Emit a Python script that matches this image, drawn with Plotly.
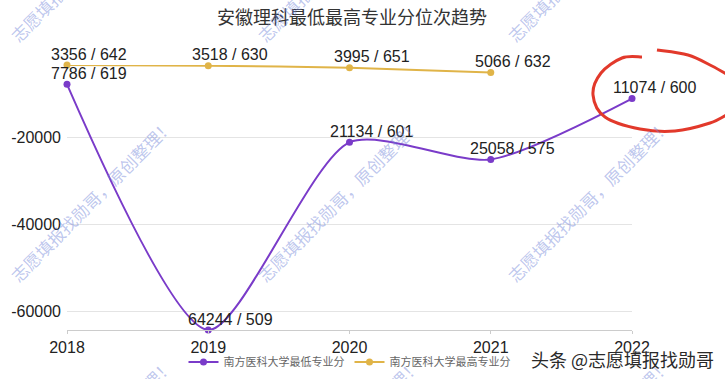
import plotly.graph_objects as go

# ---------------- data ----------------
years = [2018, 2019, 2020, 2021, 2022]
min_rank = [7786, 64244, 21134, 25058, 11074]
min_score = [619, 509, 601, 575, 600]
max_years = [2018, 2019, 2020, 2021]
max_rank = [3356, 3518, 3995, 5066]
max_score = [642, 630, 651, 632]
y_ticks = [-60000, -40000, -20000]
series_names = ["南方医科大学最低专业分", "南方医科大学最高专业分"]
title_text = "安徽理科最低最高专业分位次趋势"
watermark = "志愿填报找勋哥，原创整理！"
credit = "头条 @志愿填报找勋哥"

PURPLE = "#7a3bc9"
GOLD = "#e0b448"
FONT = "Liberation Sans, Noto Sans CJK SC, sans-serif"
CJK = "Noto Sans CJK SC, sans-serif"

W, H = 725, 379
L, R, T, B = 67, 93, 65, 49
PW, PH = W - L - R, H - T - B


def px2paper(x, y):
    return (x - L) / PW, (H - B - y) / PH


fig = go.Figure()
fig.add_trace(go.Scatter(
    x=years, y=[-v for v in min_rank], name=series_names[0],
    mode="lines+markers", line=dict(color=PURPLE, width=2, shape="spline", smoothing=0.7),
    marker=dict(size=7, color=PURPLE), cliponaxis=False,
))
fig.add_trace(go.Scatter(
    x=max_years, y=[-v for v in max_rank], name=series_names[1],
    mode="lines+markers", line=dict(color=GOLD, width=2, shape="spline", smoothing=0.7),
    marker=dict(size=7, color=GOLD), cliponaxis=False,
))

annotations = []
for xs, rs, ss in ((years, min_rank, min_score), (max_years, max_rank, max_score)):
    for x, r, s in zip(xs, rs, ss):
        annotations.append(dict(
            x=x, y=-r, xref="x", yref="y", text=f"{r} / {s}", showarrow=False,
            xanchor="center", yanchor="middle", xshift=22, yshift=11,
            font=dict(family=FONT, size=16, color="#222"),
        ))

# tiled diagonal watermarks
for cx in (91, 338, 588):
    for cy in (-40, 200, 440):
        px, py = px2paper(cx, cy)
        annotations.append(dict(
            x=px, y=py, xref="paper", yref="paper", text=watermark, showarrow=False,
            textangle=-45, xanchor="center", yanchor="middle",
            font=dict(family=CJK, size=17, color="rgba(110,130,215,0.45)"),
        ))

# bottom-right credit
cx, cy = px2paper(716, 359)
annotations.append(dict(
    x=cx, y=cy, xref="paper", yref="paper", text=credit, showarrow=False,
    xanchor="right", yanchor="middle",
    font=dict(family=CJK, size=18, color="#2a2a2a", shadow="0px 0px 3px white"),
))


# hand-drawn red circle around the 2022 label
def smooth_path(pts):
    pp = [px2paper(x, y) for x, y in pts]
    d = f"M {pp[0][0]:.4f},{pp[0][1]:.4f}"
    n = len(pp)
    for i in range(n - 1):
        p0 = pp[i - 1] if i > 0 else pp[i]
        p1, p2 = pp[i], pp[i + 1]
        p3 = pp[i + 2] if i + 2 < n else p2
        c1 = (p1[0] + (p2[0] - p0[0]) / 6, p1[1] + (p2[1] - p0[1]) / 6)
        c2 = (p2[0] - (p3[0] - p1[0]) / 6, p2[1] - (p3[1] - p1[1]) / 6)
        d += f" C {c1[0]:.4f},{c1[1]:.4f} {c2[0]:.4f},{c2[1]:.4f} {p2[0]:.4f},{p2[1]:.4f}"
    return d


arc_a = [(642, 57), (622, 58), (601, 73), (593, 95), (605, 117), (640, 129),
         (675, 131), (710, 123), (728, 114)]
arc_b = [(657, 50), (688, 55), (712, 66), (728, 75)]
shapes = [dict(type="path", path=smooth_path(a), xref="paper", yref="paper",
               line=dict(color="#e2392b", width=3)) for a in (arc_a, arc_b)]

fig.update_layout(
    width=W, height=H,
    margin=dict(l=L, r=R, t=T, b=B, autoexpand=False),
    paper_bgcolor="white", plot_bgcolor="white",
    title=dict(text=title_text, x=352 / W, xanchor="center", y=1 - 18 / H, yanchor="middle",
               xref="container", yref="container",
               font=dict(family=CJK, size=18, color="#333")),
    xaxis=dict(range=[2018, 2022], tickvals=years, ticktext=[str(y) for y in years],
               showgrid=False, zeroline=False, showline=True, linecolor="#cccccc",
               ticks="outside", ticklen=3, tickcolor="#cccccc",
               tickfont=dict(family=FONT, size=16, color="#222")),
    yaxis=dict(range=[-max(min_rank), -min(max_rank)], tickvals=y_ticks,
               ticktext=[str(v) for v in y_ticks], showgrid=True, gridcolor="#e4e4e4",
               zeroline=False, showline=False, ticks="", ticklabelstandoff=5,
               tickfont=dict(family=FONT, size=16, color="#222")),
    legend=dict(orientation="h", x=0.5, xanchor="center", y=px2paper(0, 362)[1], yanchor="middle",
                font=dict(family=CJK, size=11, color="#666"), itemwidth=30,
                bgcolor="rgba(0,0,0,0)"),
    annotations=annotations,
    shapes=shapes,
)

fig.write_html("out.html")
